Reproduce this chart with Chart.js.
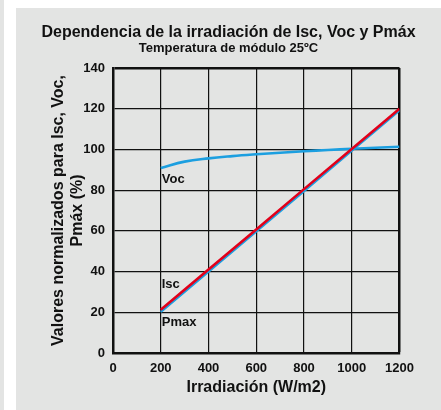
<!DOCTYPE html>
<html>
<head>
<meta charset="utf-8">
<title>Dependencia de la irradiación de Isc, Voc y Pmáx</title>
<script src="https://cdn.jsdelivr.net/npm/chart.js@4.4.0/dist/chart.umd.min.js"></script>
<style>
  html, body { margin: 0; padding: 0; background: #fff; }
  body { width: 441px; height: 410px; position: relative; overflow: hidden; }
  #strip { position: absolute; left: 0; top: 0; width: 4px; height: 410px; background: #e3e4e3; }
  #panel { position: absolute; left: 16px; top: 8px; width: 425px; height: 402px; background: #e3e4e3; }
</style>
</head>
<body>
<div id="strip"></div>
<div id="panel"><canvas id="chart"></canvas></div>
<script>
// Values
const lineIrr = [200, 400, 600, 800, 1000, 1200];
const iscValues = [21.3, 41.0, 60.7, 80.5, 100.2, 120.0];
const pmaxValues = [20.2, 40.0, 59.8, 79.6, 99.5, 119.3];

const vocIrr = [200, 300, 400, 500, 600, 700, 800, 900, 1000, 1100, 1200];
const vocValues = [90.9, 94.0, 95.6, 96.7, 97.6, 98.4, 99.1, 99.7, 100.3, 100.8, 101.3];

const xTicks = [0, 200, 400, 600, 800, 1000, 1200];
const yTicks = [0, 20, 40, 60, 80, 100, 120, 140];

// curve names written inside the plot, anchored in data units
const curveLabels = ["Voc", "Isc", "Pmax"];
const labelIrr = [200, 200, 200];
const labelVal = [85.3, 33.5, 14.8];

const ink = "#111";
const blue = "#1c9fe0";
const red = "#e2001a";

function toPoints(xs, ys) {
  return xs.map((x, i) => ({ x: x, y: ys[i] }));
}

Chart.defaults.font.family = '"Liberation Sans", Arial, Helvetica, sans-serif';
Chart.defaults.color = ink;

// writes Voc / Isc / Pmax next to the curves
const curveLabelPlugin = {
  id: "curveLabels",
  afterDatasetsDraw(chart) {
    const ctx = chart.ctx;
    const xs = chart.scales.x;
    const ys = chart.scales.y;
    ctx.save();
    ctx.font = 'bold 13px "Liberation Sans", Arial, sans-serif';
    ctx.fillStyle = ink;
    ctx.textAlign = "left";
    ctx.textBaseline = "middle";
    curveLabels.forEach((txt, i) => {
      ctx.fillText(txt, xs.getPixelForValue(labelIrr[i]) + 1, ys.getPixelForValue(labelVal[i]));
    });
    ctx.restore();
  },
};

new Chart(document.getElementById("chart"), {
  type: "line",
  data: {
    datasets: [
      {
        label: "Isc",
        data: toPoints(lineIrr, iscValues),
        borderColor: red,
        borderWidth: 2.6,
        pointRadius: 0,
        fill: false,
      },
      {
        label: "Pmax",
        data: toPoints(lineIrr, pmaxValues),
        borderColor: blue,
        borderWidth: 2.6,
        pointRadius: 0,
        fill: false,
      },
      {
        label: "Voc",
        data: toPoints(vocIrr, vocValues),
        borderColor: blue,
        borderWidth: 2.6,
        pointRadius: 0,
        tension: 0.4,
        fill: false,
      },
    ],
  },
  options: {
    responsive: true,
    maintainAspectRatio: false,
    animation: false,
    devicePixelRatio: 1,
    layout: { padding: 0 },
    plugins: {
      legend: { display: false },
      tooltip: { enabled: false },
      title: {
        display: true,
        text: "Dependencia de la irradiación de Isc, Voc y Pmáx",
        color: ink,
        font: { size: 16, weight: "bold", lineHeight: 1 },
        padding: { top: 16.5, bottom: 0 },
      },
      subtitle: {
        display: true,
        text: "Temperatura de módulo 25ºC",
        color: ink,
        font: { size: 13, weight: "bold", lineHeight: 1 },
        padding: { top: 1.5, bottom: 13 },
      },
    },
    scales: {
      x: {
        type: "linear",
        min: 0,
        max: 1200,
        afterBuildTicks: (s) => { s.ticks = xTicks.map((v) => ({ value: v })); },
        afterFit: (s) => { s.height = 57; },
        ticks: {
          color: ink,
          font: { size: 13, weight: "bold" },
          padding: 8,
          maxRotation: 0,
          autoSkip: false,
          callback: (v) => String(v),
        },
        grid: {
          color: ink,
          lineWidth: (c) => (c.tick && c.tick.value === 1200 ? 2.5 : 1.2),
          drawTicks: false,
        },
        border: { color: ink, width: 2.5 },
        title: {
          display: true,
          text: "Irradiación (W/m2)",
          color: ink,
          font: { size: 16, weight: "bold", lineHeight: 1.2 },
          padding: { top: 0, bottom: 12.5 },
        },
      },
      y: {
        min: 0,
        max: 140,
        afterBuildTicks: (s) => { s.ticks = yTicks.map((v) => ({ value: v })); },
        afterFit: (s) => { s.width = 97; },
        ticks: {
          color: ink,
          font: { size: 13, weight: "bold" },
          padding: 8,
          autoSkip: false,
          callback: (v) => String(v),
        },
        grid: {
          color: ink,
          lineWidth: (c) => (c.tick && c.tick.value === 140 ? 2.5 : 1.2),
          drawTicks: false,
        },
        border: { color: ink, width: 2.5 },
        title: {
          display: true,
          text: ["Valores normalizados para Isc, Voc,", "Pmáx (%)"],
          color: ink,
          font: { size: 16, weight: "bold", lineHeight: 1.2 },
          padding: { top: 33, bottom: 0 },
        },
      },
      // empty right-hand axis that only reserves the margin, so the title stays centred on the panel
      yRight: {
        position: "right",
        min: 0,
        max: 140,
        afterFit: (s) => { s.width = 41.5; },
        ticks: { display: false },
        grid: { display: false, drawOnChartArea: false },
        border: { display: false },
      },
    },
  },
  plugins: [curveLabelPlugin],
});
</script>
</body>
</html>
